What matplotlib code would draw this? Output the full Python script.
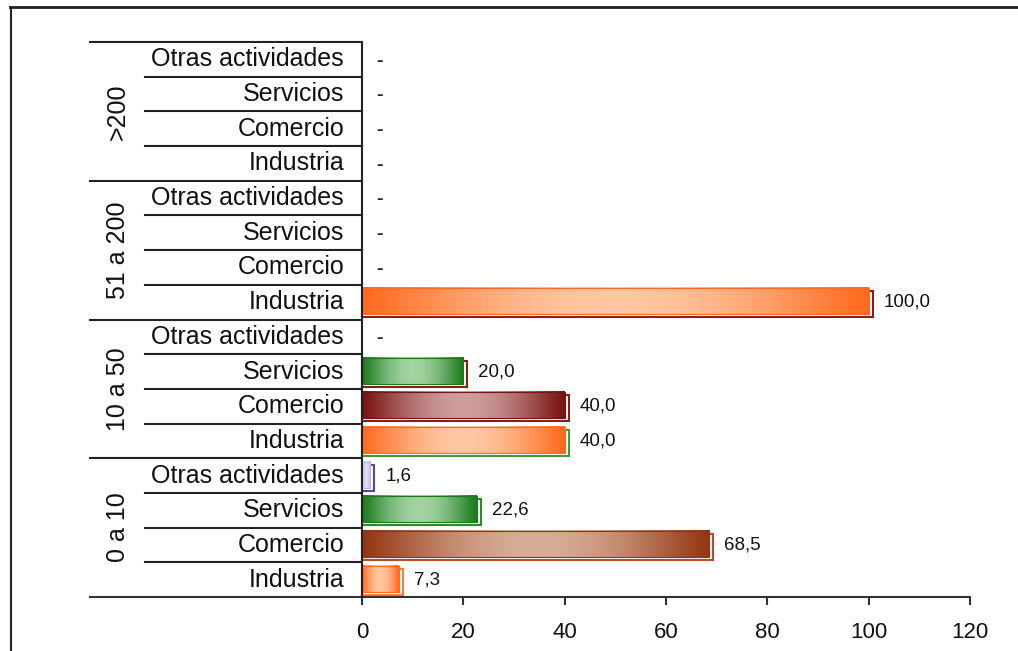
import numpy as np
import matplotlib
matplotlib.use("Agg")
import matplotlib.pyplot as plt
from matplotlib.colors import LinearSegmentedColormap
from matplotlib.patches import Rectangle
from matplotlib.lines import Line2D

plt.rcParams['font.family'] = ['Liberation Sans', 'DejaVu Sans']

# ---- data ----
groups = ["0 a 10", "10 a 50", "51 a 200", ">200"]
categories = ["Industria", "Comercio", "Servicios", "Otras actividades"]
# values per group (bottom to top), None = "-"
values_0a10 = [7.3, 68.5, 22.6, 1.6]
values_10a50 = [40.0, 40.0, 20.0, None]
values_51a200 = [100.0, None, None, None]
values_gt200 = [None, None, None, None]
values = [values_0a10, values_10a50, values_51a200, values_gt200]

xticks = [0, 20, 40, 60, 80, 100, 120]

# ---- styles ----
fill_edge = {  # (dark edge colour, light middle colour) per group/category
    (0, 0): ("#FF6A1F", "#FFC7A2"),
    (0, 1): ("#953612", "#D6AD96"),
    (0, 2): ("#1C7A1C", "#A2D3A2"),
    (0, 3): ("#B8B8E0", "#DCDCF2"),
    (1, 0): ("#FF6A1F", "#FFC7A2"),
    (1, 1): ("#7A1212", "#CE9C9C"),
    (1, 2): ("#1C7A1C", "#A2D3A2"),
    (2, 0): ("#FF6A1F", "#FFC7A2"),
}
outline = {
    (0, 0): "#FF7A3A",
    (0, 1): "#B0502A",
    (0, 2): "#2A8C2A",
    (0, 3): "#4C4CAA",
    (1, 0): "#3C9C3C",
    (1, 1): "#8A1C1C",
    (1, 2): "#8A1C1C",
    (2, 0): "#8A1C1C",
}

W, H, DPI = 1018, 651, 100
fig = plt.figure(figsize=(W / DPI, H / DPI), dpi=DPI)
x_left_px, x_zero_px, x_right_px = 90, 362, 970
y_top_px, y_bot_px = 42, 597
ppu = (x_right_px - x_zero_px) / 120.0
xmin = (x_left_px - x_zero_px) / ppu
ax = fig.add_axes([x_left_px / W, 1 - y_bot_px / H,
                   (x_right_px - x_left_px) / W, (y_bot_px - y_top_px) / H])

nrows = len(groups) * len(categories)
bar_h = 0.75
dy = 2.0 / ((y_bot_px - y_top_px) / nrows)  # 2px in data units
dx = 4.0 / ppu
profile = np.sin(np.pi * np.linspace(0, 1, 256)) ** 1.1

for g, gvals in enumerate(values):
    for c, v in enumerate(gvals):
        yc = g * len(categories) + c + 0.5
        if v is None:
            ax.text(3.4, yc - 0.05, "-", ha="center", va="center", fontsize=14,
                    fontweight="bold", color="#222222")
            continue
        dark, light = fill_edge[(g, c)]
        cmap = LinearSegmentedColormap.from_list("g", [dark, light], N=256)
        # outline (offset) with white interior
        ax.add_patch(Rectangle((0, yc - bar_h / 2 - dy), v + dx, bar_h,
                               facecolor="white", edgecolor=outline[(g, c)],
                               lw=1.5, zorder=2))
        ax.imshow(profile.reshape(1, -1), cmap=cmap, vmin=0, vmax=1,
                  extent=[0, v, yc - bar_h / 2 + dy * 0.5, yc + bar_h / 2 + dy * 0.5],
                  aspect="auto", zorder=3, interpolation="bilinear")
        ax.add_patch(Rectangle((0, yc - bar_h / 2 + dy * 0.5), v, bar_h, facecolor="none",
                               edgecolor=dark, lw=0.8, zorder=4))
        ax.text(v + dx + 2.2, yc, f"{v:.1f}".replace(".", ","), ha="left",
                va="center", fontsize=13.5, color="#111111")

ax.set_xlim(xmin, 120)
ax.set_ylim(0, nrows)

# category labels & separators
lab_x = (344 - x_zero_px) / ppu
grp_x = (118 - x_zero_px) / ppu
inner_x = (145 - x_zero_px) / ppu
for g, gname in enumerate(groups):
    for c, cname in enumerate(categories):
        yc = g * len(categories) + c + 0.5
        ax.text(lab_x, yc, cname, ha="right", va="center", fontsize=18, color="#111111")
        if c > 0:
            ax.plot([inner_x, 0], [g * 4 + c] * 2, color="#222222", lw=1.5,
                    clip_on=False, zorder=5)
    ax.plot([xmin, 0], [g * 4 + 4] * 2, color="#222222", lw=1.5, clip_on=False, zorder=5)
    ax.text(grp_x, g * 4 + 2, gname, rotation=90, ha="center", va="center",
            fontsize=18, color="#111111")

ax.plot([0, 0], [0, nrows], color="#222222", lw=1.5, zorder=6, clip_on=False)

for s in ["top", "right", "left"]:
    ax.spines[s].set_visible(False)
ax.spines["bottom"].set_color("#333333")
ax.spines["bottom"].set_linewidth(1.5)
ax.set_yticks([])
ax.set_xticks(xticks)
ax.set_xticklabels([str(t) for t in xticks])
ax.tick_params(axis="x", direction="out", length=6, width=1.5, color="#333333",
               labelsize=16, pad=12, labelcolor="#111111")

# figure border (top and left)
fig.add_artist(Line2D([10 / W, 1], [1 - 7 / H] * 2, color="#222222", lw=2))
fig.add_artist(Line2D([10.5 / W] * 2, [0, 1 - 7 / H], color="#222222", lw=1.5))

fig.savefig("out.png", dpi=DPI, facecolor="white")
